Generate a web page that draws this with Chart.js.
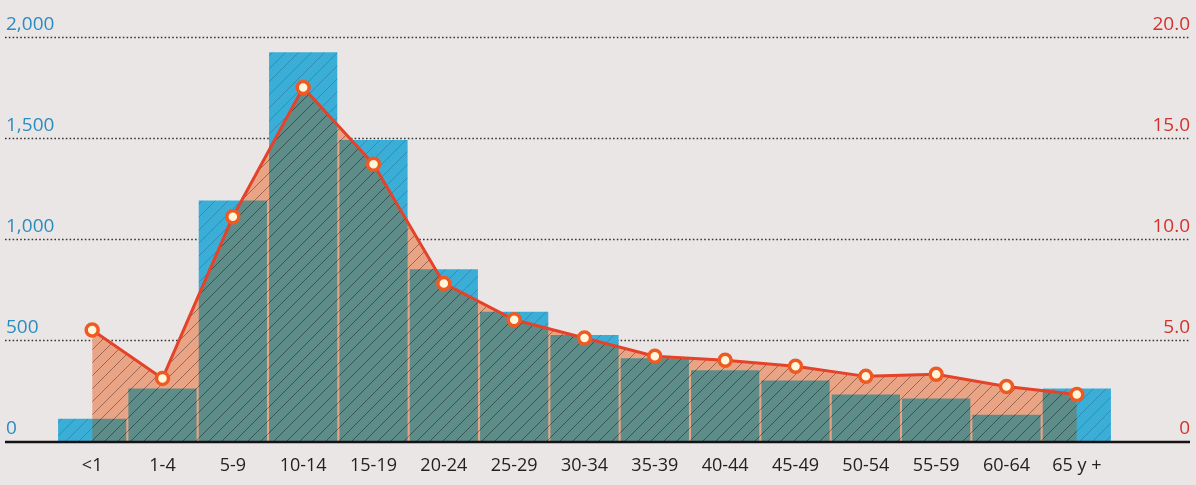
<!DOCTYPE html>
<html>
<head>
<meta charset="utf-8">
<script src="https://cdn.jsdelivr.net/npm/chart.js@4.4.1/dist/chart.umd.min.js"></script>
<style>
  body { margin: 0; background: #ebe6e6; }
  #wrap { width: 1196px; height: 485px; position: relative; }
</style>
</head>
<body>
<div id="wrap"><canvas id="casesChart"></canvas></div>
<script>
const ageGroups = ["<1", "1-4", "5-9", "10-14", "15-19", "20-24", "25-29", "30-34",
  "35-39", "40-44", "45-49", "50-54", "55-59", "60-64", "65 y +"];

// bars, left axis
const cases = [110, 260, 1190, 1925, 1490, 850, 640, 525, 410, 350, 300, 230, 210, 130, 260];

// line, right axis
const rate = [5.5, 3.1, 11.1, 17.5, 13.7, 7.8, 6.0, 5.1, 4.2, 4.0, 3.7, 3.2, 3.3, 2.7, 2.3];

const leftTicks = ["0", "500", "1,000", "1,500", "2,000"];
const rightTicks = ["0", "5.0", "10.0", "15.0", "20.0"];

function hatch(base, lineColor) {
    const s = 13;
    const c = document.createElement("canvas");
    c.width = s;
    c.height = s;
    const g = c.getContext("2d");
    g.fillStyle = base;
    g.fillRect(0, 0, s, s);
    g.strokeStyle = lineColor;
    g.lineWidth = 1;
    g.beginPath();
    g.moveTo(-2, s + 2); g.lineTo(s + 2, -2);
    g.moveTo(-s, s); g.lineTo(s, -s);
    g.moveTo(0, 2 * s); g.lineTo(2 * s, 0);
    g.stroke();
    return g.createPattern(c, "repeat");
}

// area fill goes first; overlap bars paint only on the fill, plain bars only outside it
const layers = {
    id: "layers",
    beforeDatasetDraw(chart, args) {
        const ops = ["source-atop", "destination-over", "source-over"];
        chart.ctx.globalCompositeOperation = ops[args.index];
    },
    afterDatasetDraw(chart) {
        chart.ctx.globalCompositeOperation = "source-over";
    },
    afterDatasetsDraw(chart) {
        const ctx = chart.ctx;
        const y = chart.scales.y;
        ctx.save();
        ctx.globalCompositeOperation = "destination-over";
        ctx.strokeStyle = "#3a3535";
        ctx.lineWidth = 1.6;
        ctx.setLineDash([1.6, 2.2]);
        y.ticks.forEach(t => {
            if (t.value === 0) return;
            const py = Math.round(y.getPixelForValue(t.value)) + 0.5;
            ctx.beginPath();
            ctx.moveTo(5, py);
            ctx.lineTo(1190, py);
            ctx.stroke();
        });
        ctx.restore();

        ctx.save();
        const base = y.getPixelForValue(0) + 1;
        ctx.strokeStyle = "#141212";
        ctx.lineWidth = 2.5;
        ctx.beginPath();
        ctx.moveTo(5, base);
        ctx.lineTo(1190, base);
        ctx.stroke();
        ctx.restore();
    }
};

new Chart(document.getElementById("casesChart"), {
    type: "bar",
    data: {
        labels: ageGroups,
        datasets: [{
            type: "bar",
            label: "Casos",
            data: cases,
            yAxisID: "y",
            order: 3,
            grouped: false,
            backgroundColor: hatch("#5e8c88", "rgba(25,45,45,0.6)"),
            borderWidth: 0,
            barPercentage: 1,
            categoryPercentage: 0.97
        }, {
            type: "bar",
            label: "Casos",
            data: cases,
            yAxisID: "y",
            order: 2,
            grouped: false,
            backgroundColor: hatch("#3baed8", "rgba(20,70,100,0.3)"),
            borderWidth: 0,
            barPercentage: 1,
            categoryPercentage: 0.97
        }, {
            type: "line",
            label: "Tasa",
            data: rate,
            yAxisID: "y1",
            order: 1,
            fill: "origin",
            backgroundColor: hatch("#e9a385", "rgba(90,55,45,0.55)"),
            borderColor: "#e4432a",
            borderWidth: 3,
            tension: 0,
            pointRadius: 6,
            pointBorderWidth: 3.5,
            pointBackgroundColor: "#fff6dc",
            pointBorderColor: "#ee5a22"
        }]
    },
    options: {
        responsive: true,
        maintainAspectRatio: false,
        animation: false,
        layout: { padding: { left: 6, right: 6, top: 37, bottom: 0 } },
        plugins: {
            legend: { display: false },
            tooltip: { enabled: false },
            filler: { drawTime: "beforeDatasetsDraw" }
        },
        scales: {
            x: {
                grid: { display: false },
                border: { display: false },
                ticks: {
                    color: "#222",
                    padding: 6,
                    font: { family: "Open Sans", size: 18 }
                },
                afterFit(scale) { scale.height = 44; }
            },
            y: {
                position: "left",
                min: 0,
                max: 2000,
                grid: { display: false },
                border: { display: false },
                ticks: {
                    stepSize: 500,
                    crossAlign: "far",
                    labelOffset: -12,
                    padding: 0,
                    color: "#2b8cbf",
                    font: { family: "Open Sans", size: 19 },
                    callback: (v, i) => leftTicks[i]
                },
                afterFit(scale) { scale.width = 51; }
            },
            y1: {
                position: "right",
                min: 0,
                max: 20,
                grid: { display: false },
                border: { display: false },
                ticks: {
                    stepSize: 5,
                    crossAlign: "far",
                    labelOffset: -12,
                    padding: 0,
                    color: "#d4322c",
                    font: { family: "Open Sans", size: 19 },
                    callback: (v, i) => rightTicks[i]
                },
                afterFit(scale) { scale.width = 78; }
            }
        }
    },
    plugins: [layers]
});
</script>
</body>
</html>
